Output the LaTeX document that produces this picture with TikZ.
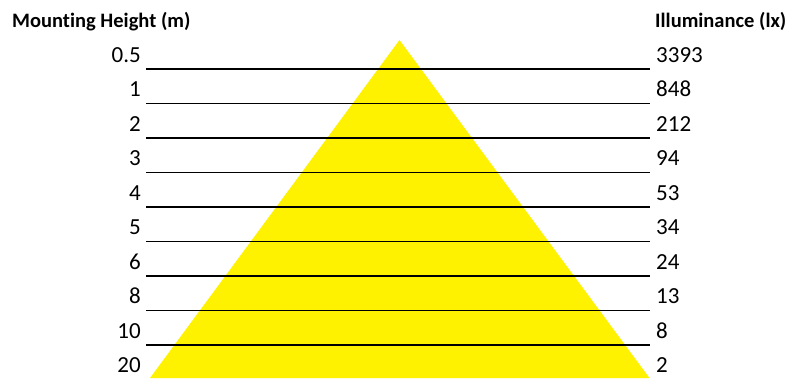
\documentclass[tikz,border=0pt]{standalone}
\usepackage{fontspec}
\setmainfont{Carlito}[Ligatures=NoCommon]
\usetikzlibrary{positioning}

\begin{document}
\begin{tikzpicture}[
				x=1pt,y=-1pt,
				height/.style={
					anchor=base east,
					inner sep=0pt,
					font=\fontsize{23}{27}\selectfont
				},
				lux/.style={
					anchor=base west,
					inner sep=0pt,
					font=\fontsize{23}{27}\selectfont
				},
				heading/.style={
					anchor=base west,
					inner sep=0pt,
					font=\fontsize{20.5}{25}\selectfont\bfseries
				},
				rule/.style={
					draw=black,
					line width=1.1pt
				}
				]
				
				\useasboundingbox (0,0) rectangle (795,378);
				
				% -------------------------------------------------------------------------
				% Light cone
				% -------------------------------------------------------------------------
				
				\fill[yellow] (399.5,40) -- (150,378) -- (649.5,378) -- cycle;
				
				% -------------------------------------------------------------------------
				% Column headings
				% -------------------------------------------------------------------------
				
				\node[heading] (hhead) at (12,27) {Mounting Height (m)};
				\node[heading] (lxhead) at (655,27) {Illuminance (lx)};
				
				% -------------------------------------------------------------------------
				% Mounting heights (left column)
				% -------------------------------------------------------------------------
				
				\node[height] (h05) at (141,62) {0.5};
				\node[height] (h1) at (141,96.5) {1};
				\node[height] (h2) at (141,131) {2};
				\node[height] (h3) at (141,165.5) {3};
				\node[height] (h4) at (141,200) {4};
				\node[height] (h5) at (141,234.5) {5};
				\node[height] (h6) at (141,269) {6};
				\node[height] (h8) at (141,303.5) {8};
				\node[height] (h10) at (141,338) {10};
				\node[height] (h20) at (141,372.5) {20};
				
				% -------------------------------------------------------------------------
				% Illuminance values (right column)
				% -------------------------------------------------------------------------
				
				\node[lux] (lx05) at (656,62) {3393};
				\node[lux] (lx1) at (656,96.5) {848};
				\node[lux] (lx2) at (656,131) {212};
				\node[lux] (lx3) at (656,165.5) {94};
				\node[lux] (lx4) at (656,200) {53};
				\node[lux] (lx5) at (656,234.5) {34};
				\node[lux] (lx6) at (656,269) {24};
				\node[lux] (lx8) at (656,303.5) {13};
				\node[lux] (lx10) at (656,338) {8};
				\node[lux] (lx20) at (656,372.5) {2};
				
				% -------------------------------------------------------------------------
				% Row separators
				% -------------------------------------------------------------------------
				
				\coordinate (s1) at (146,69);    \coordinate (e1) at (650,69);
				\coordinate (s2) at (146,103.5); \coordinate (e2) at (650,103.5);
				\coordinate (s3) at (146,138);   \coordinate (e3) at (650,138);
				\coordinate (s4) at (146,172.5); \coordinate (e4) at (650,172.5);
				\coordinate (s5) at (146,207);   \coordinate (e5) at (650,207);
				\coordinate (s6) at (146,241.5); \coordinate (e6) at (650,241.5);
				\coordinate (s7) at (146,276);   \coordinate (e7) at (650,276);
				\coordinate (s8) at (146,310.5); \coordinate (e8) at (650,310.5);
				\coordinate (s9) at (146,345);   \coordinate (e9) at (650,345);
				
				\draw[rule] (s1) -- (e1);
				\draw[rule] (s2) -- (e2);
				\draw[rule] (s3) -- (e3);
				\draw[rule] (s4) -- (e4);
				\draw[rule,line width=1.7pt] (s5) -- (e5);
				\draw[rule] (s6) -- (e6);
				\draw[rule] (s7) -- (e7);
				\draw[rule] (s8) -- (e8);
				\draw[rule] (s9) -- (e9);
				
		\end{tikzpicture}
\end{document}
